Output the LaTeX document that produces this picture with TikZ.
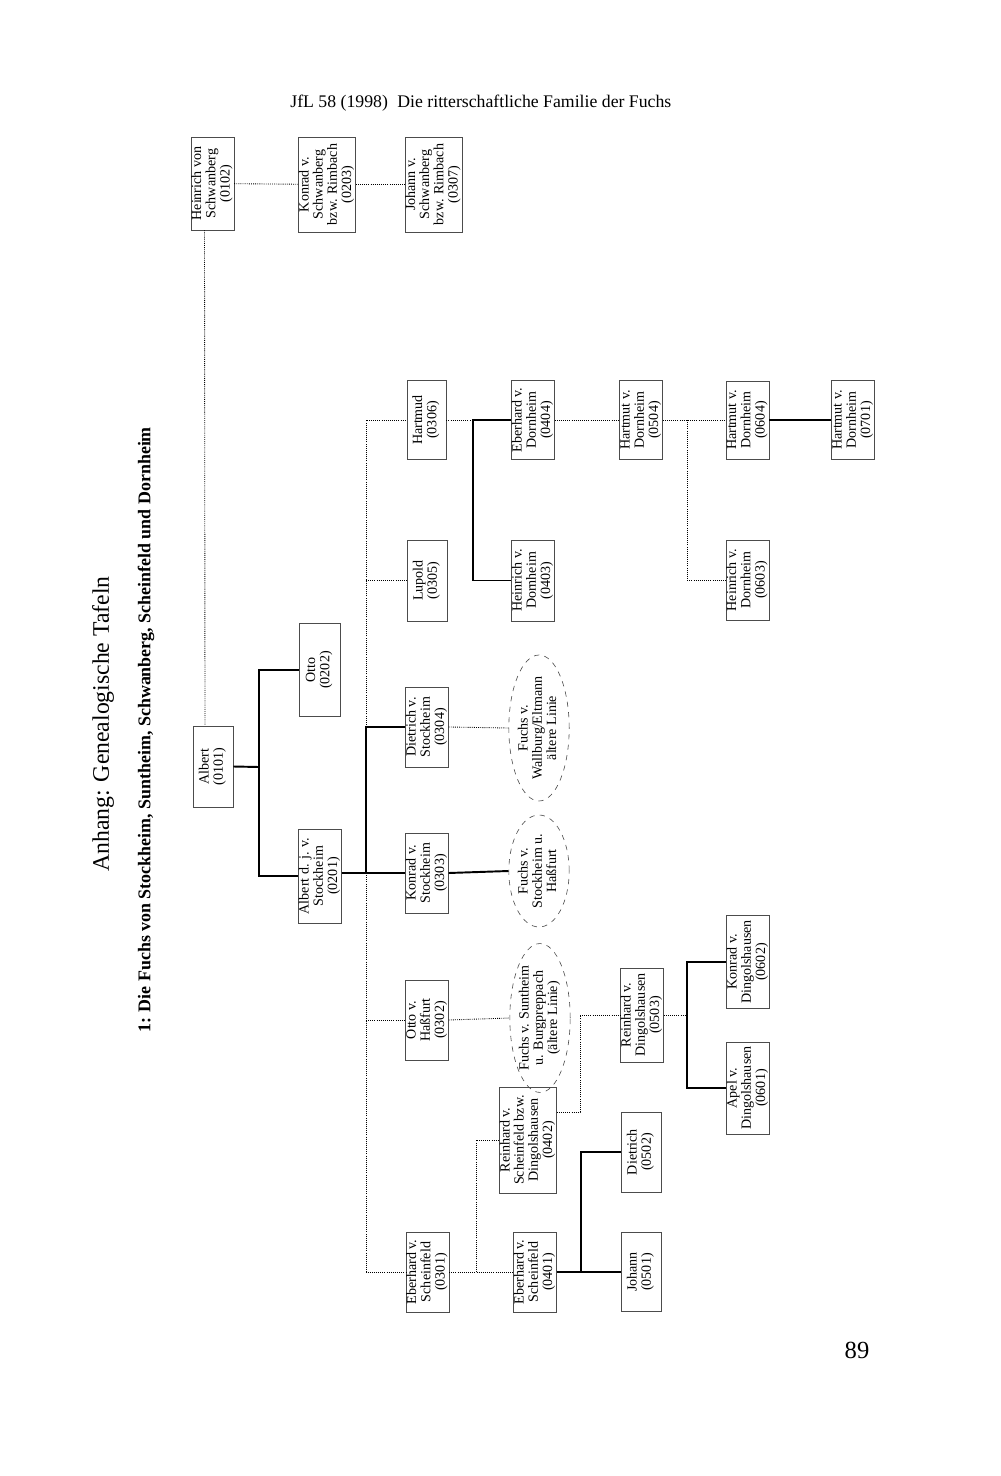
\documentclass[tikz,border=0pt]{standalone}
\usepackage{fontspec}
\setmainfont{Liberation Serif}
\usetikzlibrary{shapes.geometric}
\newcommand{\rotbox}[1]{\rotatebox{90}{\begin{tabular}{@{}c@{}}#1\end{tabular}}}
\newcommand{\boxfont}{\fontsize{8}{8.1}\selectfont}
\begin{document}
\begin{tikzpicture}[x=0.02cm, y=-0.02cm,
    person/.style={draw=black!70, line width=0.35pt, inner sep=0pt, font=\boxfont},
    wh/.style 2 args={minimum width=#1*0.02cm, minimum height=#2*0.02cm},
    branch/.style={ellipse, draw=black!70, dashed, line width=0.35pt, inner sep=0pt, font=\boxfont},
    line/.style={line width=1.1pt},
    dots/.style={line width=0.5pt, dash pattern=on 0.5pt off 0.7pt}]
\useasboundingbox (0,0) rectangle (1000,1476);
% page head and titles
\node[anchor=base west, inner sep=0pt, font=\fontsize{10.1}{12}\selectfont] (hd1) at (290,108) {JfL 58 (1998)};
\node[anchor=base west, inner sep=0pt, font=\fontsize{10.1}{12}\selectfont] (hd2) at (397,108) {Die ritterschaftliche Familie der Fuchs};
\node[rotate=90, font=\fontsize{13.5}{16}\selectfont] (t1) at (103,724) {Anhang: Genealogische Tafeln};
\node[rotate=90, font=\bfseries\fontsize{10.2}{12}\selectfont] (t2) at (146,730) {1: Die Fuchs von Stockheim, Suntheim, Schwanberg, Scheinfeld und Dornheim};
\node[font=\fontsize{14}{16}\selectfont] (pg) at (857,1350) {89};

% generation 1 and 2
\node[person, wh={39}{93}] (n0102) at (212.5,183.5) {\rotbox{Heinrich von\\Schwanberg\\(0102)}};
\node[person, wh={54}{95}] (n0203) at (327,184.5) {\rotbox{Konrad v.\\Schwanberg\\bzw. Rimbach\\(0203)}};
\node[person, wh={53}{95}] (n0307) at (433.5,184.5) {\rotbox{Johann v.\\Schwanberg\\bzw. Rimbach\\(0307)}};
\node[person, wh={40}{81}] (n0101) at (213,766.5) {\rotbox{Albert\\(0101)}};
\node[person, wh={41}{93}] (n0202) at (319.5,670) {\rotbox{Otto\\(0202)}};
\node[person, wh={40}{94}] (n0201) at (320,876) {\rotbox{Albert d. j. v.\\Stockheim\\(0201)}};

% generation 3
\node[person, wh={39}{79}] (n0306) at (426.5,420) {\rotbox{Hartmud\\(0306)}};
\node[person, wh={40}{81}] (n0305) at (427,580.5) {\rotbox{Lupold\\(0305)}};
\node[person, wh={40}{80}] (n0304) at (427,727) {\rotbox{Dietrich v.\\Stockheim\\(0304)}};
\node[person, wh={40}{80}] (n0303) at (427,873) {\rotbox{Konrad v.\\Stockheim\\(0303)}};
\node[person, wh={40}{80}] (n0302) at (427,1020) {\rotbox{Otto v.\\Haßfurt\\(0302)}};
\node[person, wh={41}{80}] (n0301) at (427.5,1272) {\rotbox{Eberhard v.\\Scheinfeld\\(0301)}};

% lines
\node[branch, minimum width=52*0.02cm, minimum height=113*0.02cm] (f1) at (539,728) {\rotbox{Fuchs v.\\Wallburg/Eltmann\\ältere Linie}};
\node[branch, minimum width=52*0.02cm, minimum height=112*0.02cm] (f2) at (539,871) {\rotbox{Fuchs v.\\Stockheim u.\\Haßfurt}};
\node[branch, minimum width=54*0.02cm, minimum height=113*0.02cm] (f3) at (540,1018) {\rotbox{Fuchs v. Suntheim\\u. Burgpreppach\\(ältere Linie)}};

% generation 4
\node[person, wh={40}{79}] (n0404) at (533,420) {\rotbox{Eberhard v.\\Dornheim\\(0404)}};
\node[person, wh={40}{81}] (n0403) at (533,580.5) {\rotbox{Heinrich v.\\Dornheim\\(0403)}};
\node[person, wh={52}{106}] (n0402) at (528,1140) {\rotbox{Reinhard v.\\Scheinfeld bzw.\\Dingolshausen\\(0402)}};
\node[person, wh={40}{80}] (n0401) at (535,1272) {\rotbox{Eberhard v.\\Scheinfeld\\(0401)}};

% generation 5
\node[person, wh={40}{79}] (n0504) at (641,420) {\rotbox{Hartmut v.\\Dornheim\\(0504)}};
\node[person, wh={40}{94}] (n0503) at (642,1015) {\rotbox{Reinhard v.\\Dingolshausen\\(0503)}};
\node[person, wh={40}{80}] (n0502) at (641,1152) {\rotbox{Dietrich\\(0502)}};
\node[person, wh={40}{79}] (n0501) at (641,1272) {\rotbox{Johann\\(0501)}};

% generation 6 and 7
\node[person, wh={39}{78}] (n0604) at (747.5,420) {\rotbox{Hartmut v.\\Dornheim\\(0604)}};
\node[person, wh={39}{80}] (n0603) at (747.5,580) {\rotbox{Heinrich v.\\Dornheim\\(0603)}};
\node[person, wh={40}{93}] (n0602) at (748,962) {\rotbox{Konrad v.\\Dingolshausen\\(0602)}};
\node[person, wh={40}{92}] (n0601) at (748,1088) {\rotbox{Apel v.\\Dingolshausen\\(0601)}};
\node[person, wh={40}{79}] (n0701) at (853,420) {\rotbox{Hartmut v.\\Dornheim\\(0701)}};

% junctions
\coordinate (j1) at (259,767);
\coordinate (j2) at (366,873);
\coordinate (j3) at (473,420);
\coordinate (j4) at (687,420);
\coordinate (j5) at (476,1272);
\coordinate (j6) at (580,1112);
\coordinate (j7) at (581,1272);
\coordinate (j8) at (687,1015);

% connectors
\draw[dots] (n0102) -- (n0203);
\draw[dots] (n0203) -- (n0307);
\draw[dots] ([xshift=-0.16cm]n0102.south) -- ([xshift=-0.16cm]n0101.north);
\draw[line] (n0101.east) -- (j1);
\draw[line] (n0202.west) -| (j1) |- (n0201.west);
\draw[line] (n0201.east |- j2) -- (n0303.west);
\draw[line] (j2) |- (n0304.west);
\draw[dots] (n0304.west -| j2) |- (n0306.west);
\draw[dots] (j2 |- n0305) -- (n0305.west);
\draw[dots] (j2) |- (n0301.west);
\draw[dots] (j2 |- n0302) -- (n0302.west);
\draw[line] (n0303.east) -- (f2.west);
\draw[dots] (n0304.east) -- (f1.west);
\draw[dots] (n0302.east) -- (f3.west);
\draw[dots] (n0306.east) -- (j3);
\draw[line] (n0404.west) -- (j3) |- (n0403.west);
\draw[dots] (n0404.east) -- (n0504.west);
\draw[dots] (n0504.east) -- (n0604.west);
\draw[dots] (j4) |- (n0603.west);
\draw[line] (n0604.east) -- (n0701.west);
\draw[dots] (n0301.east) -- (n0401.west);
\draw[dots] (j5) |- (n0402.west);
\draw[dots] (n0402.east |- j6) -- (j6) |- (n0503.west);
\draw[line] (n0401.east) -- (n0501.west);
\draw[line] (j7) |- (n0502.west);
\draw[dots] (n0503.east) -- (j8);
\draw[line] (n0602.west) -| (j8) |- (n0601.west);
\end{tikzpicture}
\end{document}
